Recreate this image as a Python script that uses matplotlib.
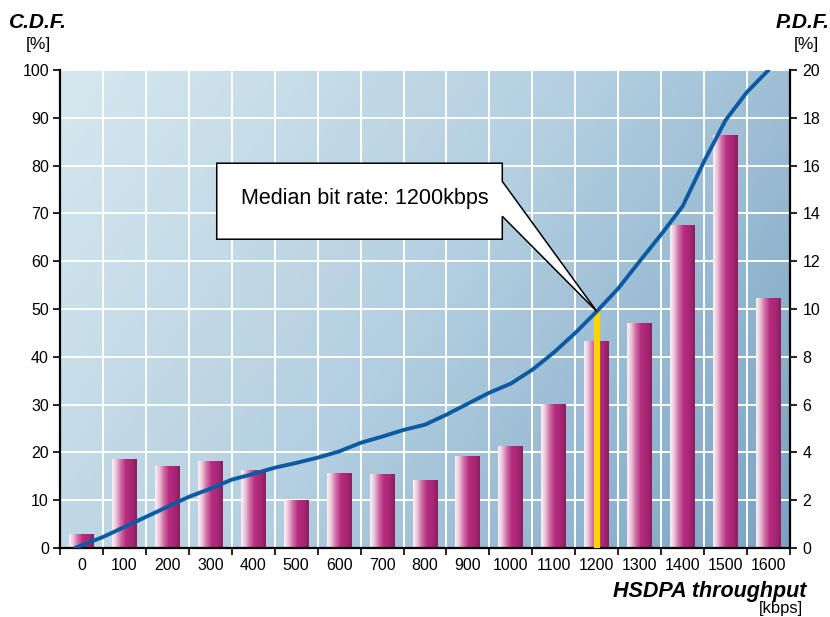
import numpy as np
import matplotlib.pyplot as plt
from matplotlib.patches import Polygon
from matplotlib.colors import LinearSegmentedColormap

plt.rcParams['font.family'] = ['Liberation Sans', 'DejaVu Sans']

# throughput classes (kbps) and measured distribution
labels = ['0', '100', '200', '300', '400', '500', '600', '700', '800',
          '900', '1000', '1100', '1200', '1300', '1400', '1500', '1600']
pdf = [0.6, 3.73, 3.44, 3.65, 3.27, 2.01, 3.14, 3.1, 2.85,
       3.86, 4.28, 6.04, 8.68, 9.4, 13.5, 17.3, 10.44]
# C.D.F. sampled at class centres and class borders
cdf_x = [-0.15, 0.5, 1, 1.5, 2, 2.5, 3, 3.5, 4, 4.5, 5, 5.5, 6, 6.5, 7, 7.5,
         8, 8.5, 9, 9.5, 10, 10.5, 11, 11.5, 12, 12.5, 13, 13.5, 14, 14.5,
         15, 15.5, 16]
cdf = [0, 2.3, 4.4, 6.5, 8.6, 10.7, 12.4, 14.3, 15.5, 16.8, 17.8, 18.9,
       20.2, 22.0, 23.3, 24.7, 25.8, 27.9, 30.2, 32.5, 34.4, 37.3, 40.9,
       45.0, 49.5, 54.3, 60.0, 65.6, 71.5, 80.9, 89.5, 95.4, 100]
median_idx = 12
median_cdf = 49.5

fig = plt.figure(figsize=(8.3, 6.17), dpi=100)
ax = fig.add_axes([60 / 830, 69 / 617, 730 / 830, 478 / 617])
ax2 = ax.twinx()
ax.set_zorder(3)
ax2.set_zorder(2)
ax.patch.set_visible(False)

# background: diagonal blue gradient
bg_cmap = LinearSegmentedColormap.from_list('bg', ['#d6e8ef', '#b3cfe0', '#7aa2c3'])
yy, xx = np.mgrid[0:1:200j, 0:1:300j]
t = 0.68 * xx + 0.32 * yy
ax2.imshow(t, cmap=bg_cmap, extent=(0, 1, 0, 1), transform=ax2.transAxes,
           aspect='auto', zorder=0, interpolation='bilinear')

# bars with a shaded cylinder look
bar_cmap = LinearSegmentedColormap.from_list(
    'bar', [(0, '#fbf3f6'), (0.15, '#eec8dc'), (0.35, '#cf6ea6'),
            (0.55, '#b82d80'), (0.8, '#a82676'), (1, '#8a1f5c')])
grad = np.linspace(0, 1, 64).reshape(1, -1)
bars = ax2.bar(range(len(pdf)), pdf, width=0.58, color='none',
               edgecolor='none', zorder=2)
for b in bars:
    x0, w, h = b.get_x(), b.get_width(), b.get_height()
    im = ax2.imshow(grad, cmap=bar_cmap, extent=(x0, x0 + w, 0, h),
                    aspect='auto', zorder=2, interpolation='bilinear')
    im.set_clip_path(b)

# grid lives on the lower axes so the bars cover it
ax2.set_ylim(0, 20)
ax2.set_yticks(range(0, 21, 2))
ax2.grid(axis='y', color='white', lw=1.4, zorder=1)
ax2.xaxis.set_visible(True)
ax2.set_xticks(np.arange(-0.5, 17, 1), minor=True)
ax2.grid(axis='x', which='minor', color='white', lw=1.4, zorder=1)
ax2.tick_params(axis='x', which='both', bottom=False, top=False,
                labelbottom=False, labeltop=False)
ax2.set_axisbelow(True)

# median marker and C.D.F. curve
ax.vlines(median_idx, 0, median_cdf, color='#ffd300', lw=4.5, zorder=3)
ax.plot(cdf_x, cdf, color='#0b5aa2', lw=2.8, zorder=4,
        solid_joinstyle='round', solid_capstyle='round')

# callout box
callout = Polygon([(3.15, 64.6), (3.15, 80.5), (9.8, 80.5), (9.8, 76.7),
                   (median_idx, median_cdf), (9.8, 69.4), (9.8, 64.6)],
                  closed=True, facecolor='white', edgecolor='black',
                  lw=1.1, zorder=5)
ax.add_patch(callout)
ax.text(6.6, 73.2, 'Median bit rate: 1200kbps', ha='center', va='center',
        fontsize=15.5, zorder=6)

ax.set_xlim(-0.5, 16.5)
ax.set_ylim(0, 100)
ax.set_yticks(range(0, 101, 10))
ax.set_xticks(range(len(labels)))
ax.set_xticklabels(labels)
ax.set_xticks(np.arange(-0.5, 17, 1), minor=True)
ax.tick_params(axis='x', which='major', length=0, pad=7, labelsize=11.5)
ax.tick_params(axis='x', which='minor', length=5, width=1.2, color='black')
ax.tick_params(axis='y', length=5, width=1.2, pad=3, labelsize=11.5)
ax2.tick_params(axis='y', length=5, width=1.2, pad=4, labelsize=11.5)

for a in (ax, ax2):
    for s in a.spines.values():
        s.set_visible(False)
ax.spines['left'].set_visible(True)
ax.spines['bottom'].set_visible(True)
ax2.spines['right'].set_visible(True)
for s in (ax.spines['left'], ax.spines['bottom'], ax2.spines['right']):
    s.set_linewidth(1.6)
    s.set_color('black')

# axis titles
fig.text(9 / 830, 1 - 22 / 617, 'C.D.F.', fontsize=15, fontweight='bold',
         fontstyle='italic', ha='left', va='center')
fig.text(38 / 830, 1 - 45 / 617, '[%]', fontsize=12.5, ha='center', va='center')
fig.text(829 / 830, 1 - 22 / 617, 'P.D.F.', fontsize=15, fontweight='bold',
         fontstyle='italic', ha='right', va='center')
fig.text(806 / 830, 1 - 45 / 617, '[%]', fontsize=12.5, ha='center', va='center')
fig.text(806 / 830, 1 - 591 / 617, 'HSDPA throughput', fontsize=15.5,
         fontweight='bold', fontstyle='italic', ha='right', va='center')
fig.text(803 / 830, 1 - 608 / 617, '[kbps]', fontsize=12, ha='right',
         va='center')

fig.savefig('out.png', dpi=100)
